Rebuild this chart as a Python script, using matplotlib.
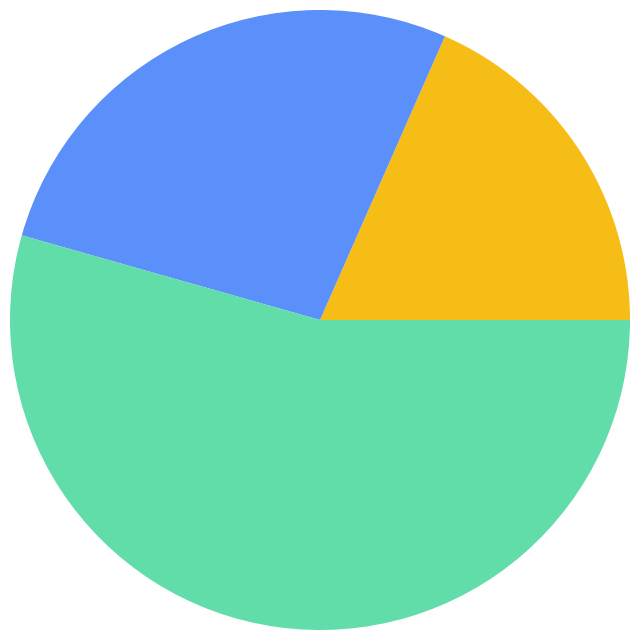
import matplotlib.pyplot as plt

labels = ['A', 'B', 'C']
values = [18.4, 27.2, 54.4]
colors = ['#F6BD16', '#5B8FF9', '#61DDAA']

fig = plt.figure(figsize=(6.4, 6.4), dpi=100)
ax = fig.add_axes([0, 0, 1, 1])
ax.pie(values, colors=colors, startangle=0, counterclock=True, radius=1,
       wedgeprops={'linewidth': 0})
lim = 320 / 310
ax.set_xlim(-lim, lim)
ax.set_ylim(-lim, lim)
ax.set_aspect('equal')
ax.axis('off')
fig.savefig('out.png', dpi=100)
